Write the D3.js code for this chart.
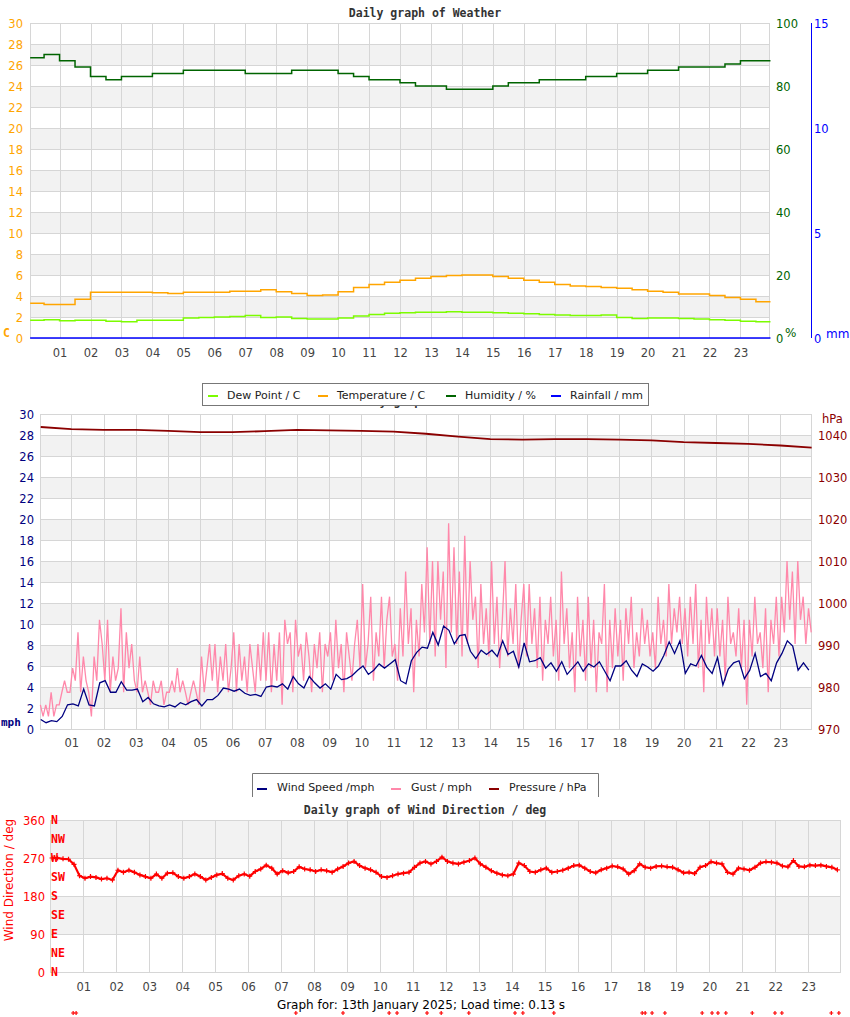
<!DOCTYPE html>
<html><head><meta charset="utf-8">
<script src="https://cdn.jsdelivr.net/npm/d3@7"></script>
<style>
body{margin:0;background:#fff}
svg{display:block}
text{font-family:"DejaVu Sans",sans-serif}
.mono{font-family:"DejaVu Sans Mono",monospace;font-weight:bold}
</style>
</head><body>
<svg id="c" width="850" height="1017"></svg>
<script>
// ---------------- DATA ----------------
const hourLabels = ["01","02","03","04","05","06","07","08","09","10","11","12","13","14","15","16","17","18","19","20","21","22","23"];
const tempTicks = [0,2,4,6,8,10,12,14,16,18,20,22,24,26,28,30];
const humTicks = [0,20,40,60,80,100];
const rainTicks = [0,5,10,15];
const windTicks = [0,2,4,6,8,10,12,14,16,18,20,22,24,26,28,30];
const pressTicks = [970,980,990,1000,1010,1020,1030,1040];
const dirTicks = [0,90,180,270,360];
const compass = [["N",360],["NW",315],["W",270],["SW",225],["S",180],["SE",135],["E",90],["NE",45],["N",0]];

// half-hourly (0:00, 0:30, ... 23:30)
const temperature = [3.3,3.2,3.2,3.7,4.35,4.35,4.35,4.35,4.3,4.25,4.35,4.35,4.35,4.45,4.45,4.6,4.4,4.25,4.05,4.1,4.4,4.8,5.1,5.3,5.5,5.7,5.85,5.95,6.0,6.0,5.85,5.7,5.5,5.3,5.1,4.95,4.9,4.8,4.75,4.6,4.45,4.35,4.2,4.2,4.05,3.85,3.7,3.45];
const dewPoint = [1.7,1.75,1.65,1.7,1.7,1.6,1.55,1.7,1.7,1.7,1.9,1.95,2.0,2.05,2.15,1.95,2.0,1.85,1.8,1.8,1.9,2.1,2.25,2.35,2.4,2.45,2.45,2.5,2.45,2.45,2.4,2.35,2.3,2.25,2.2,2.15,2.15,2.2,1.95,1.85,1.9,1.9,1.85,1.8,1.75,1.7,1.6,1.55];
const humidity = [89,90,88,86,83,82,83,83,84,84,85,85,85,85,84,84,84,85,85,85,84,83,82,82,81,80,80,79,79,79,80,81,81,82,82,82,83,83,84,84,85,85,86,86,86,87,88,88];
const rainfall = [0,0,0,0,0,0,0,0,0,0,0,0,0,0,0,0,0,0,0,0,0,0,0,0,0,0,0,0,0,0,0,0,0,0,0,0,0,0,0,0,0,0,0,0,0,0,0,0];

// 10-minute wind speed (mph)
const windSpeed = [
0.9,0.6,0.8,0.7,1.2,2.3, 2.4,2.2,3.8,2.3,2.2,4.4, 4.6,3.5,3.5,4.5,3.7,3.7, 3.8,2.6,3.0,2.4,2.2,2.1,
2.3,2.1,2.5,2.3,2.6,2.8, 2.2,2.8,2.8,3.2,3.9,3.8, 3.6,3.8,3.4,3.2,3.3,3.1, 4.0,4.1,4.0,4.3,3.8,5.0,
4.3,3.9,5.0,4.4,3.9,4.3, 3.8,5.2,4.7,4.8,5.1,5.6, 6.0,5.2,5.6,6.2,5.8,6.2, 6.6,4.6,4.3,6.5,7.3,7.8,
7.7,9.2,8.0,9.8,9.4,8.1, 8.9,9.0,7.4,6.7,7.5,7.1, 7.5,6.9,8.4,7.1,7.4,5.9, 8.2,6.4,6.5,6.8,5.8,6.3,
5.5,6.4,5.2,5.8,6.4,5.5, 6.2,5.9,6.4,5.5,4.6,6.0, 6.0,6.5,5.6,5.0,6.2,5.9, 5.5,6.0,7.0,8.3,7.2,8.4,
5.3,6.2,6.0,7.0,5.9,5.3, 6.8,4.2,5.7,6.3,6.5,4.8, 5.6,7.2,5.0,5.3,4.6,6.3, 7.2,8.4,7.9,5.6,6.3,5.6];

// 5-minute gusts (mph)
const gust = [
2.3,1.2,2.3,1.2,3.5,1.2,2.3,2.3,3.5,4.6,3.5,3.5,
5.8,4.6,9.2,3.5,6.9,4.6,3.5,1.2,6.9,4.6,10.4,8.1,
4.6,10.4,3.5,6.9,4.6,5.8,11.5,3.5,9.2,5.8,8.1,4.6,
3.5,6.9,3.5,4.6,3.5,2.3,4.6,3.5,3.5,4.6,2.3,3.5,
3.5,4.6,3.5,5.8,3.5,4.6,3.5,2.3,3.5,4.6,3.5,2.3,
6.9,3.5,5.8,8.1,4.6,8.1,3.5,6.9,4.6,8.1,3.5,5.8,
9.2,3.5,8.1,4.6,6.9,3.5,8.1,5.8,3.5,8.1,4.6,9.2,
4.6,9.2,3.5,8.1,4.6,9.2,2.3,10.4,8.1,9.2,3.5,10.4,
6.9,8.1,4.6,9.2,6.9,3.5,8.1,5.8,9.2,3.5,8.1,6.9,
9.2,4.6,10.4,5.8,8.1,3.5,9.2,6.9,4.6,8.1,10.4,5.8,
13.8,5.8,8.1,12.6,4.6,9.2,6.9,12.6,5.8,10.4,12.6,6.9,
8.1,4.6,11.5,6.9,15.0,8.1,11.5,3.5,10.4,6.9,13.8,9.2,
17.3,8.1,16.0,6.9,16.0,10.4,15.0,5.8,19.6,9.2,17.3,8.1,
15.0,6.9,18.4,8.1,16.0,10.4,12.6,5.8,13.8,8.1,11.5,6.9,
16.0,8.1,12.6,5.8,10.4,16.0,6.9,11.5,8.1,13.8,5.8,10.4,
13.8,6.9,13.8,8.1,11.5,5.8,12.6,4.6,10.4,8.1,12.6,6.9,
10.4,4.6,15.0,8.1,11.5,5.8,9.2,3.5,12.6,6.9,10.4,4.6,
12.6,5.8,10.4,3.5,9.2,8.1,13.8,3.5,10.4,5.8,11.5,6.9,
10.4,4.6,11.5,8.1,12.6,5.8,9.2,6.9,11.5,8.1,10.4,6.9,
9.2,5.8,12.6,8.1,10.4,6.9,13.8,8.1,11.5,9.2,12.6,8.1,
11.5,6.9,12.6,8.1,13.8,5.8,10.4,3.5,12.6,8.1,11.5,6.9,
11.5,6.9,10.4,4.6,12.6,8.1,9.2,6.9,11.5,5.8,10.4,2.3,
10.4,6.9,12.6,8.1,9.2,5.8,11.5,3.5,10.4,8.1,12.6,6.9,
12.6,9.2,16.0,10.4,15.0,8.1,16.0,10.4,12.6,8.1,11.5,9.2];

// hourly pressure (hPa), 0:00 .. 24:00
const pressure = [1041.9,1041.4,1041.2,1041.2,1041.0,1040.7,1040.7,1040.9,1041.2,1041.1,1041.0,1040.8,1040.3,1039.6,1039.0,1038.9,1039.0,1039.0,1038.9,1038.7,1038.3,1038.1,1037.9,1037.5,1037.0];

// 10-minute wind direction (deg)
const windDir = [
270,270,268,267,255,228, 222,226,224,220,222,218, 241,236,241,236,230,226, 222,232,222,234,235,226,
222,226,232,226,218,224, 230,233,222,218,228,232, 227,238,244,253,246,232, 240,235,238,249,244,242,
238,242,240,236,244,250, 258,262,252,246,242,236, 226,224,228,232,234,236, 248,258,262,256,262,272,
262,258,256,260,264,270, 256,248,240,234,230,228, 232,258,252,238,236,242, 246,236,238,241,246,252,
253,246,238,235,242,246, 251,249,244,232,240,256, 248,246,250,251,249,248, 242,235,236,233,248,252,
261,258,256,236,232,246, 244,241,248,258,261,260, 258,251,249,264,250,249, 253,252,253,250,248,242];

// hours of calm readings (drawn below the direction chart)
const calmHours = [0.69,0.78,7.45,8.88,10.28,10.52,11.43,11.86,12.7,14.1,14.34,15.28,17.96,18.05,18.26,18.65,19.78,20.08,20.26,20.5,21.3,21.99,22.2,23.7,23.93];

const footer = "Graph for: 13th January 2025; Load time: 0.13 s";

// ---------------- DRAW ----------------
const svg = d3.select("#c");
const GRID = "#d6d6d6", BAND = "#f2f2f2";
const TICKFONT = 11.5;
const half = (i) => i * 0.5;
const ten = (i) => i / 6 + 0.05;
const five = (i) => i / 12 + 0.04;
const clampH = h => Math.min(23.97, Math.max(0.05, h));

function frame(x, y, x0, x1, bandFrom, bandTo, bandStep, grayTest, ticks) {
  const g = svg.append("g");
  g.append("rect").attr("x", x0).attr("y", y.range()[1]).attr("width", x1 - x0)
    .attr("height", y.range()[0] - y.range()[1]).attr("fill", "#fff");
  for (let v = bandFrom; v < bandTo; v += bandStep) {
    if (grayTest(v)) g.append("rect").attr("x", x0).attr("width", x1 - x0)
      .attr("y", y(v + bandStep)).attr("height", y(v) - y(v + bandStep)).attr("fill", BAND);
  }
  ticks.forEach(v => g.append("line").attr("x1", x0).attr("x2", x1).attr("y1", Math.round(y(v)) + 0.5).attr("y2", Math.round(y(v)) + 0.5)
    .attr("stroke", GRID));
  d3.range(1, 24).forEach(h => g.append("line").attr("x1", Math.round(x(h)) + 0.5).attr("x2", Math.round(x(h)) + 0.5)
    .attr("y1", y.range()[1]).attr("y2", y.range()[0]).attr("stroke", GRID));
  g.append("rect").attr("x", x0 + 0.5).attr("y", y.range()[1] + 0.5).attr("width", x1 - x0 - 1)
    .attr("height", y.range()[0] - y.range()[1]).attr("fill", "none").attr("stroke", GRID);
  return g;
}
function hourAxis(x, yCenter) {
  const ax = d3.axisBottom(x).tickValues(d3.range(1, 24)).tickFormat((d, i) => hourLabels[i]).tickSize(0).tickPadding(0);
  const g = svg.append("g").attr("transform", `translate(0,${yCenter})`).call(ax);
  g.select(".domain").remove();
  g.selectAll("text").attr("dy", "0.35em").attr("font-size", TICKFONT).attr("fill", "#444").attr("font-family", "DejaVu Sans");
}
function sideAxis(scale, ticks, xPos, side, color) {
  const ax = (side === "left" ? d3.axisLeft(scale) : d3.axisRight(scale)).tickValues(ticks).tickSize(0).tickPadding(0).tickFormat(d3.format("d"));
  const g = svg.append("g").attr("transform", `translate(${xPos},0)`).call(ax);
  g.select(".domain").remove();
  g.selectAll("text").attr("dy", "0.35em").attr("font-size", TICKFONT).attr("fill", color).attr("font-family", "DejaVu Sans");
  return g;
}

// ===== Chart 1 =====
const x1 = d3.scaleLinear([0, 24], [28.6, 771.4]);
const yT = d3.scaleLinear([0, 30], [338, 23]);
const yH = d3.scaleLinear([0, 100], [338, 23]);
const yR = d3.scaleLinear([0, 15], [338, 23]);
frame(x1, yT, 30, 770, 0, 30, 2, v => (v / 2) % 2 === 1, tempTicks);
svg.append("text").attr("class", "mono").attr("x", 425).attr("y", 17).attr("text-anchor", "middle")
  .attr("font-size", 11.5).attr("fill", "#333").text("Daily graph of Weather");

const ext = arr => arr.concat([arr[arr.length - 1]]);
const lineH = d3.line().x((d, i) => x1(clampH(half(i)))).curve(d3.curveStepAfter);
svg.append("path").datum(ext(rainfall)).attr("d", lineH.y(d => yR(d))).attr("fill", "none").attr("stroke", "#0000ff").attr("stroke-width", 1.5);
svg.append("path").datum(ext(dewPoint)).attr("d", lineH.y(d => yT(d))).attr("fill", "none").attr("stroke", "#7cfc00").attr("stroke-width", 1.5);
svg.append("path").datum(ext(temperature)).attr("d", lineH.y(d => yT(d))).attr("fill", "none").attr("stroke", "#ffa500").attr("stroke-width", 1.5);
svg.append("path").datum(ext(humidity)).attr("d", lineH.y(d => yH(d))).attr("fill", "none").attr("stroke", "#006400").attr("stroke-width", 1.5);

hourAxis(x1, 353);
sideAxis(yT, tempTicks, 23, "left", "#ffa500");
svg.append("text").attr("class", "mono").attr("x", 3).attr("y", 337).attr("font-size", 11.5).attr("fill", "#ffa500").text("C");
sideAxis(yH, humTicks, 776, "right", "#006400");
svg.append("text").attr("x", 785).attr("y", 337).attr("font-size", 12).attr("fill", "#006400").text("%");
svg.append("line").attr("x1", 811.5).attr("x2", 811.5).attr("y1", 23).attr("y2", 338).attr("stroke", "#0000ff");
sideAxis(yR, rainTicks, 814, "right", "#0000ff");
svg.append("text").attr("x", 826).attr("y", 338).attr("font-size", 12).attr("fill", "#0000ff").text("mm");

// ===== Chart 2 =====
const x2 = d3.scaleLinear([0, 24], [39.1, 812.6]);
const yW = d3.scaleLinear([0, 30], [729, 414]);
const yP = d3.scaleLinear([970, 1045], [729, 414]);
svg.append("text").attr("class", "mono").attr("x", 352).attr("y", 404.5).attr("font-size", 11.5).attr("fill", "#333").text("Daily graph of Wind Pressure");
frame(x2, yW, 40, 812, 0, 30, 2, v => (v / 2) % 2 === 1, windTicks);
svg.append("path").datum(gust).attr("d", d3.line().x((d, i) => x2(five(i))).y(d => yW(d)))
  .attr("fill", "none").attr("stroke", "#ff88aa").attr("stroke-width", 1.3);
svg.append("path").datum(windSpeed).attr("d", d3.line().x((d, i) => x2(ten(i))).y(d => yW(d)))
  .attr("fill", "none").attr("stroke", "#000080").attr("stroke-width", 1.3);
svg.append("path").datum(pressure).attr("d", d3.line().x((d, i) => x2(clampH(i))).y(d => yP(d)))
  .attr("fill", "none").attr("stroke", "#8b0000").attr("stroke-width", 1.8);
hourAxis(x2, 743);
sideAxis(yW, windTicks, 34, "left", "#000080");
svg.append("text").attr("class", "mono").attr("x", 1).attr("y", 726).attr("font-size", 11).attr("fill", "#000080").text("mph");
sideAxis(yP, pressTicks, 818, "right", "#8b0000");
svg.append("text").attr("x", 822).attr("y", 423).attr("font-size", 11.5).attr("fill", "#8b0000").text("hPa");

// Legend 1 (drawn over the chart-2 title)
const leg1 = svg.append("g");
leg1.append("rect").attr("x", 202.5).attr("y", 383.5).attr("width", 446).attr("height", 22).attr("fill", "#fff").attr("stroke", "#777");
[["Dew Point / C", "#7cfc00", 208], ["Temperature / C", "#ffa500", 318], ["Humidity / %", "#006400", 446], ["Rainfall / mm", "#0000ff", 551]].forEach(([t, c, xx]) => {
  leg1.append("line").attr("x1", xx).attr("x2", xx + 10).attr("y1", 396).attr("y2", 396).attr("stroke", c).attr("stroke-width", 2);
  leg1.append("text").attr("x", xx + 19).attr("y", 399).attr("font-size", 11).attr("fill", "#222").text(t);
});
// Legend 2
const leg2 = svg.append("g");
leg2.append("path").attr("d", "M252.5,797V773.5H598.5V797").attr("fill", "#fff").attr("stroke", "#777");
[["Wind Speed /mph", "#000080", 257], ["Gust / mph", "#ff88aa", 391], ["Pressure / hPa", "#8b0000", 489]].forEach(([t, c, xx]) => {
  leg2.append("line").attr("x1", xx).attr("x2", xx + 10).attr("y1", 789).attr("y2", 789).attr("stroke", c).attr("stroke-width", 2);
  leg2.append("text").attr("x", xx + 20).attr("y", 791).attr("font-size", 11).attr("fill", "#222").text(t);
});

// ===== Chart 3 =====
const x3 = d3.scaleLinear([0, 24], [50.4, 841.2]);
const yD = d3.scaleLinear([0, 360], [972, 820]);
svg.append("text").attr("class", "mono").attr("x", 425).attr("y", 814).attr("text-anchor", "middle")
  .attr("font-size", 11.5).attr("fill", "#333").text("Daily graph of Wind Direction / deg");
frame(x3, yD, 50, 841, 0, 360, 90, v => v === 90 || v === 270, dirTicks);
svg.append("path").datum(windDir).attr("d", d3.line().x((d, i) => x3(ten(i))).y(d => yD(d)))
  .attr("fill", "none").attr("stroke", "#ff0000").attr("stroke-width", 2.2);
svg.append("g").selectAll("path").data(windDir).join("path")
  .attr("d", (d, i) => { const px = x3(ten(i)), py = yD(d); return `M${px - 2.5},${py}h5M${px},${py - 2.5}v5`; })
  .attr("stroke", "#ff0000").attr("stroke-width", 1.2);
hourAxis(x3, 987);
sideAxis(yD, dirTicks, 45, "left", "#ff0000");
svg.append("text").attr("transform", "translate(13,880) rotate(-90)").attr("text-anchor", "middle")
  .attr("font-size", 12).attr("fill", "#ff0000").text("Wind Direction / deg");
svg.append("g").selectAll("text").data(compass).join("text").attr("class", "mono")
  .attr("x", 51).attr("y", d => yD(d[1])).attr("dy", "0.35em").attr("font-size", 11.5).attr("fill", "#ff0000").text(d => d[0]);
svg.append("g").selectAll("path").data(calmHours).join("path")
  .attr("d", d => { const px = x3(d); return `M${px - 2},1013h4M${px},1011v4`; })
  .attr("stroke", "#ff0000").attr("stroke-width", 1.2);
svg.append("text").attr("x", 421).attr("y", 1009).attr("text-anchor", "middle").attr("font-size", 12).attr("fill", "#000").text(footer);
</script>
</body></html>
